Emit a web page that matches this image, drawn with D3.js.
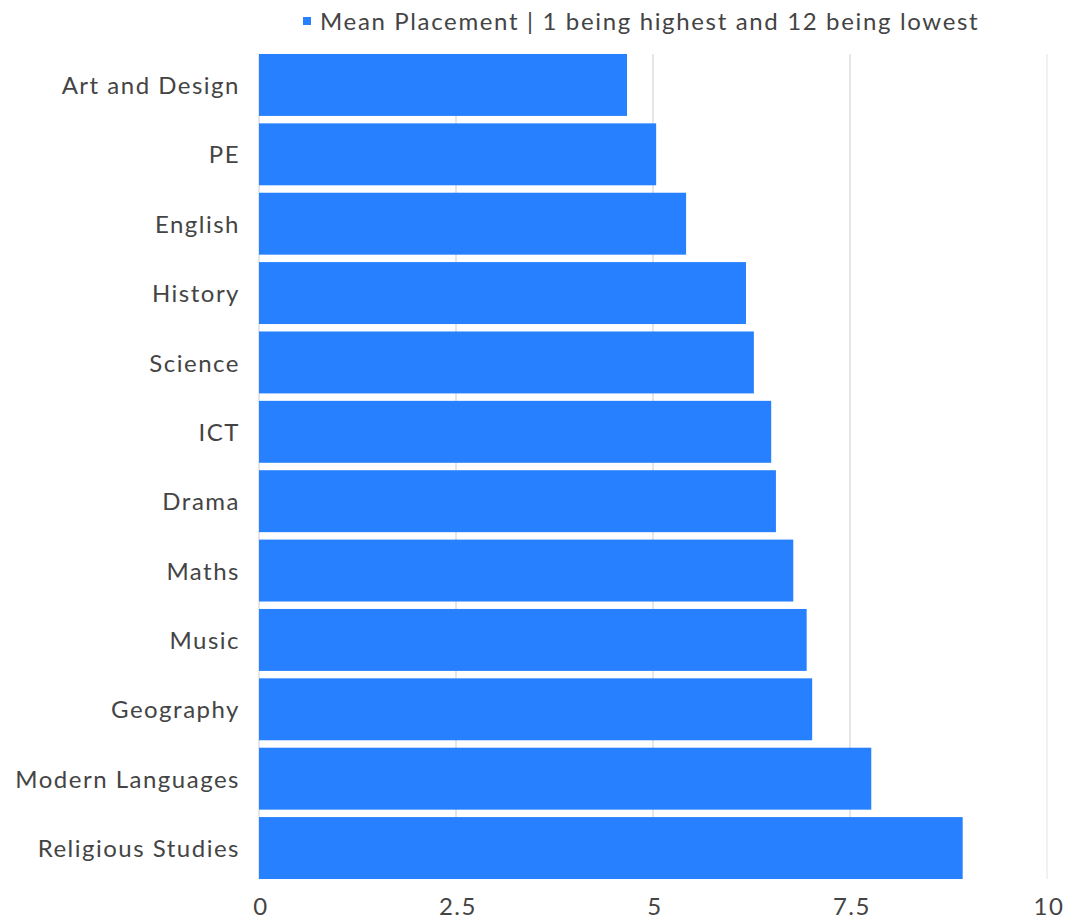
<!DOCTYPE html>
<html>
<head>
<meta charset="utf-8">
<script src="https://cdn.jsdelivr.net/npm/d3@7"></script>
<style>
  html, body { margin: 0; padding: 0; background: #fff; }
  svg text { font-family: Lato, "Open Sans", sans-serif; fill: #444; letter-spacing: 1.5px; }
</style>
</head>
<body>
<svg id="chart" width="1067" height="919"></svg>
<script>
// Subjects ranked by mean placement (1 = highest, 12 = lowest)
const subjects = [
  "Art and Design", "PE", "English", "History", "Science", "ICT",
  "Drama", "Maths", "Music", "Geography", "Modern Languages", "Religious Studies"
];
const meanPlacement = [4.67, 5.04, 5.42, 6.18, 6.28, 6.50, 6.56, 6.78, 6.95, 7.02, 7.77, 8.93];
const xTicks = [0, 2.5, 5, 7.5, 10];
const seriesName = "Mean Placement | 1 being highest and 12 being lowest";

const svg = d3.select("#chart");
const margin = { left: 259 };

const x = d3.scaleLinear().domain([0, 10]).range([margin.left, 1047]);
const y = d3.scaleBand()
  .domain(subjects)
  .range([50.3, 882.7])
  .paddingInner(0.107)
  .paddingOuter(0.053);

const gridTop = y(subjects[0]);
const gridBottom = y(subjects[subjects.length - 1]) + y.bandwidth();

// vertical gridlines
svg.append("g")
  .selectAll("line")
  .data(xTicks)
  .join("line")
  .attr("x1", d => x(d)).attr("x2", d => x(d))
  .attr("y1", gridTop).attr("y2", gridBottom)
  .attr("stroke", d => d === 10 ? "#ececec" : "#dedede")
  .attr("stroke-width", 1.5);

// bars
svg.append("g")
  .selectAll("rect")
  .data(subjects)
  .join("rect")
  .attr("x", x(0))
  .attr("y", d => y(d))
  .attr("height", y.bandwidth())
  .attr("width", (d, i) => x(meanPlacement[i]) - x(0))
  .attr("fill", "#2780ff");

// category labels
const yAxis = svg.append("g")
  .attr("transform", `translate(${x(0)},0)`)
  .call(d3.axisLeft(y).tickSize(0).tickPadding(19));
yAxis.select(".domain").remove();
yAxis.selectAll("text")
  .attr("font-size", 24)
  .attr("dy", "0.38em")
  .style("font-family", "Lato, sans-serif")
  .attr("fill", "#444");

// value axis labels
const xAxis = svg.append("g")
  .attr("transform", `translate(0,${gridBottom})`)
  .call(d3.axisBottom(x).tickValues(xTicks).tickFormat(d3.format("~g")).tickSize(0).tickPadding(19));
xAxis.select(".domain").remove();
xAxis.selectAll("text")
  .attr("font-size", 24)
  .attr("dx", "0.06em")
  .style("font-family", "Lato, sans-serif")
  .attr("fill", "#444");

// legend
const legend = svg.append("g");
legend.append("rect")
  .attr("x", 303).attr("y", 17)
  .attr("width", 8).attr("height", 8)
  .attr("fill", "#2780ff");
legend.append("text")
  .attr("x", 320).attr("y", 22)
  .attr("dy", "0.35em")
  .attr("font-size", 24)
  .style("letter-spacing", "1.65px")
  .text(seriesName);
</script>
</body>
</html>
